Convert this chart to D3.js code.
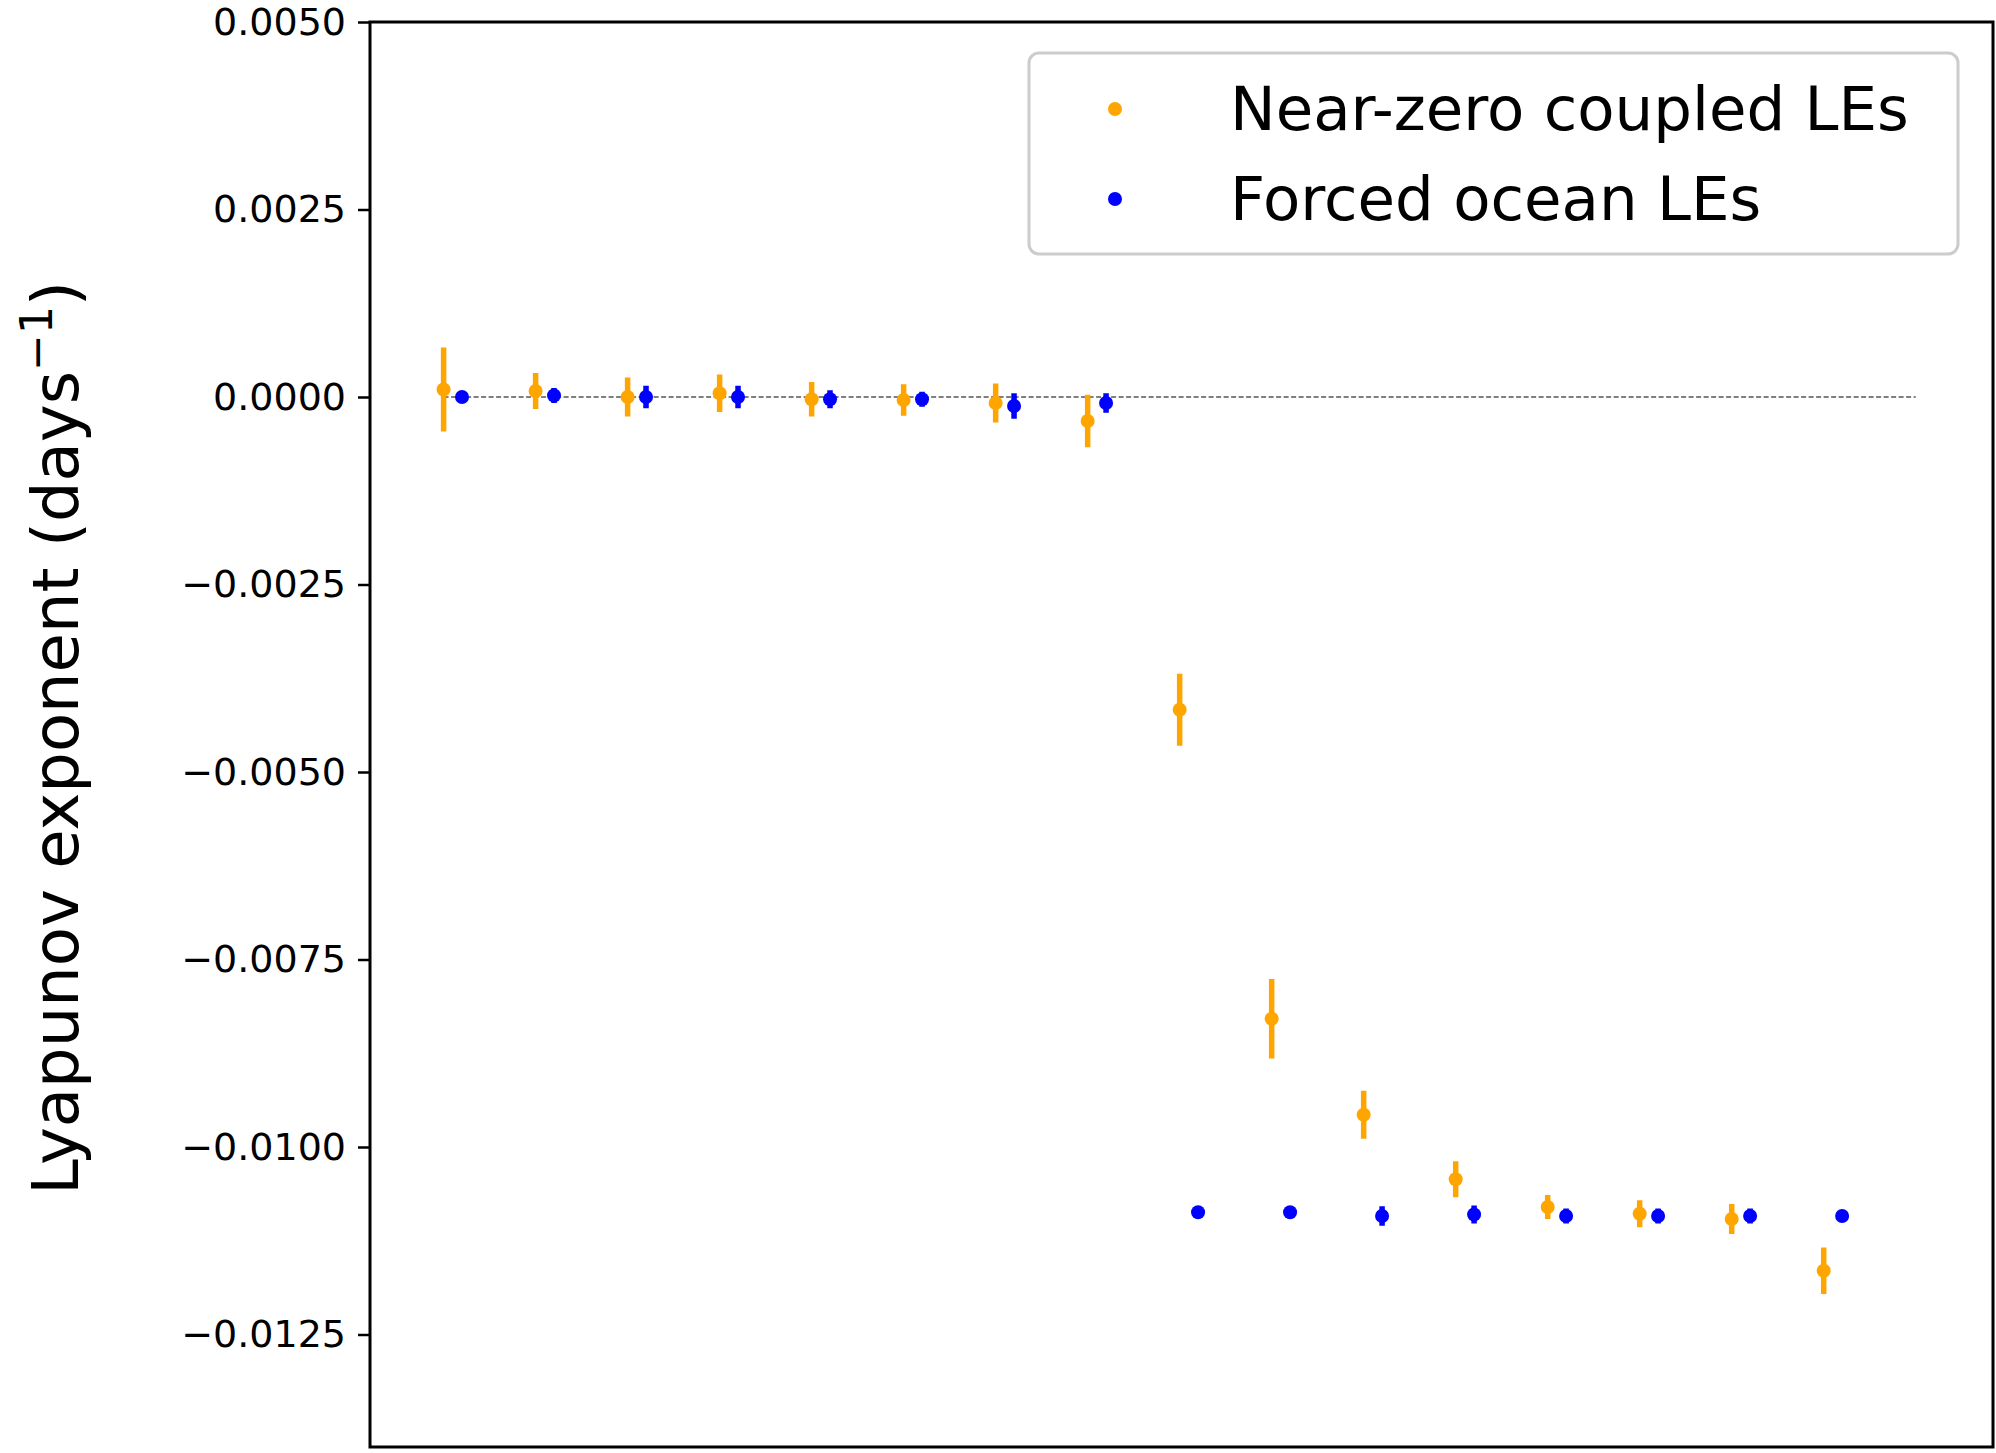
<!DOCTYPE html>
<html><head><meta charset="utf-8">
<script src="https://cdn.jsdelivr.net/npm/d3@7"></script>
<style>body{margin:0;background:#fff;font-family:"DejaVu Sans",sans-serif;}</style>
</head><body><div id="chart"></div>
<script>
// near-zero coupled LEs (orange) and forced ocean LEs (blue), with error half-widths
var coupledVals = [0.0001, 0.00008, 0.0, 0.00005, -0.00003, -0.00004, -0.00008, -0.00032,
                   -0.00417, -0.00829, -0.00957, -0.01043, -0.0108, -0.01089, -0.01096, -0.01165];
var coupledErr  = [0.00056, 0.00024, 0.00026, 0.00025, 0.00023, 0.00021, 0.00026, 0.00035,
                   0.00048, 0.00053, 0.00032, 0.00024, 0.00016, 0.00018, 0.0002, 0.00031];
var forcedVals  = [0.0, 0.00002, 0.0, 0.0, -0.00003, -0.00003, -0.00012, -0.00008,
                   -0.01087, -0.01087, -0.01092, -0.0109, -0.01092, -0.01092, -0.01092, -0.01092];
var forcedErr   = [0.00008, 0.0001, 0.00015, 0.00015, 0.00012, 0.0001, 0.00017, 0.00013,
                   0.00005, 0.00005, 0.00013, 0.00012, 0.0001, 0.0001, 0.0001, 0.00008];
var yTicks = [0.005, 0.0025, 0, -0.0025, -0.005, -0.0075, -0.01, -0.0125];
var legendLabels = ["Near-zero coupled LEs", "Forced ocean LEs"];
var colors = ["#ffa500", "#0000ff"];

var W = 1996, H = 1453;
var margin = {top: 22, right: 3, bottom: 6, left: 370};
var w = W - margin.left - margin.right, h = H - margin.top - margin.bottom;

var svg = d3.select("#chart").append("svg").attr("width", W).attr("height", H);
var g = svg.append("g").attr("transform", "translate(" + margin.left + "," + margin.top + ")");

var x = d3.scaleLinear().domain([-0.8, 16.84]).range([0, w]);
var y = d3.scaleLinear().domain([-0.014, 0.005]).range([h, 0]);

// zero line
g.append("line").attr("x1", x(0)).attr("x2", x(16)).attr("y1", y(0)).attr("y2", y(0))
    .attr("stroke", "#000").attr("stroke-width", 1.2).attr("stroke-dasharray", "5,2.5");

function series(vals, errs, off, col) {
    var grp = g.append("g");
    grp.selectAll("line").data(vals).enter().append("line")
        .attr("x1", function(d, i) { return x(i + off); })
        .attr("x2", function(d, i) { return x(i + off); })
        .attr("y1", function(d, i) { return y(d - errs[i]); })
        .attr("y2", function(d, i) { return y(d + errs[i]); })
        .attr("stroke", col).attr("stroke-width", 5.5);
    grp.selectAll("circle").data(vals).enter().append("circle")
        .attr("cx", function(d, i) { return x(i + off); })
        .attr("cy", function(d) { return y(d); })
        .attr("r", 7).attr("fill", col);
}
series(coupledVals, coupledErr, 0, colors[0]);
series(forcedVals, forcedErr, 0.2, colors[1]);

var yAxis = g.append("g").call(d3.axisLeft(y).tickValues(yTicks).tickSize(12).tickPadding(12)
    .tickFormat(function(d) { return d3.format(".4f")(d).replace("-", "\u2212"); }));
yAxis.selectAll("text").style("font-size", "38px").style("font-family", "DejaVu Sans").attr("fill", "#000");
yAxis.selectAll("line").attr("stroke-width", 2.5);
yAxis.select(".domain").remove();

g.append("rect").attr("width", w).attr("height", h).attr("fill", "none")
    .attr("stroke", "#000").attr("stroke-width", 3);

svg.append("text").attr("transform", "translate(78,738) rotate(-90)")
    .attr("text-anchor", "middle").style("font-size", "64px")
    .html('Lyapunov exponent (days<tspan dy="-26" font-size="44">\u22121</tspan><tspan dy="26">)</tspan>');

// legend
var lg = svg.append("g").attr("transform", "translate(1029,53)");
lg.append("rect").attr("width", 929).attr("height", 201).attr("rx", 10)
    .attr("fill", "#fff").attr("stroke", "#ccc").attr("stroke-width", 3);
legendLabels.forEach(function(t, i) {
    lg.append("circle").attr("cx", 86).attr("cy", 56 + i * 90).attr("r", 7).attr("fill", colors[i]);
    lg.append("text").attr("x", 201).attr("y", 56 + i * 90).attr("dy", "0.35em")
        .style("font-size", "61px").text(t);
});
</script></body></html>
